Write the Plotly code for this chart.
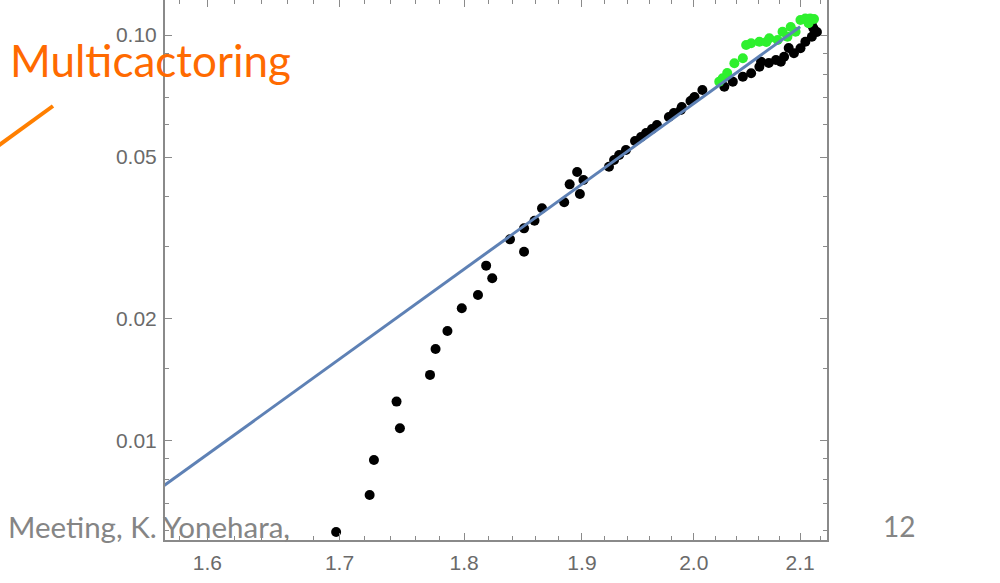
import plotly.graph_objects as go

# Measured points (log-log), black series
x_black = [1.6974, 1.7237, 1.7271, 1.7451, 1.7478, 1.7721, 1.7766, 1.7863, 1.7981, 1.8115,
           1.8183, 1.8234, 1.8383, 1.8502, 1.8502, 1.8591, 1.8655, 1.8846, 1.8893, 1.8958,
           1.9013, 1.8982, 1.9237, 1.9282, 1.9327, 1.9387, 1.9468, 1.9522, 1.9567, 1.9620,
           1.9665, 1.9773, 1.9818, 1.9890, 1.9970, 2.0007, 2.0079, 1.9881, 2.0000, 2.0282,
           2.0361, 2.0455, 2.0533, 2.0611, 2.0627, 2.0768, 2.0815, 2.0846, 2.0940, 2.1003,
           2.1050, 2.1113, 2.1128, 2.1113, 2.0700, 2.0890, 2.1162]
y_black = [0.00594, 0.00733, 0.00894, 0.01246, 0.01071, 0.01450, 0.01680, 0.01861, 0.02117, 0.02284,
           0.02697, 0.02510, 0.03132, 0.03334, 0.02920, 0.03481, 0.03736, 0.03865, 0.04281, 0.04592,
           0.04387, 0.04053, 0.04733, 0.04916, 0.05057, 0.05204, 0.05477, 0.05602, 0.05731, 0.05863,
           0.05997, 0.06277, 0.06421, 0.06644, 0.06874, 0.07031, 0.07316, 0.06531, 0.06979, 0.07456,
           0.07672, 0.07892, 0.08047, 0.08353, 0.08593, 0.08677, 0.08593, 0.08840, 0.09012, 0.09273,
           0.09627, 0.09904, 0.10388, 0.10585, 0.08530, 0.09288, 0.10172]

# Green series (upper end)
x_green = [2.0235, 2.0267, 2.0376, 2.0455, 2.0533, 2.0611, 2.0705, 2.0784, 2.0831, 2.0878,
           2.0956, 2.1003, 2.1050, 2.1097, 2.1081, 2.0486, 2.0677, 2.0909, 2.1134, 2.0309]
y_green = [0.07672, 0.07821, 0.08516, 0.08761, 0.09540, 0.09627, 0.09815, 0.09720, 0.10189, 0.09904,
           0.10189, 0.10890, 0.10976, 0.10976, 0.10687, 0.09448, 0.09609, 0.10464, 0.10952, 0.08060]

# Power-law fit line end points
fit_x = [1.56, 2.10]
fit_y = [0.00736, 0.1048]

# Axis ticks
x_major = [1.6, 1.7, 1.8, 1.9, 2.0, 2.1]
x_major_text = ["1.6", "1.7", "1.8", "1.9", "2.0", "2.1"]
x_minor = [1.58, 1.62, 1.64, 1.66, 1.68, 1.72, 1.74, 1.76, 1.78, 1.82, 1.84, 1.86, 1.88,
           1.92, 1.94, 1.96, 1.98, 2.02, 2.04, 2.06, 2.08, 2.12]
y_major = [0.01, 0.02, 0.05, 0.10]
y_major_text = ["0.01", "0.02", "0.05", "0.10"]
y_minor = [0.006, 0.007, 0.008, 0.009, 0.015, 0.03, 0.04, 0.06, 0.07, 0.08, 0.09]

W, H = 1000, 583
L, R, T, B = 165, 173, 0, 43
PW, PH = W - L - R, H - T - B
X_RANGE = [0.195694, 0.327567]
Y_RANGE = [-2.24599, -0.91364]

def px(x):
    return (x - L) / PW

def py(y):
    return (H - B - y) / PH

axis_grey = "#8a8a8a"
label_grey = "#6a6a6a"
tick_font = dict(family="Liberation Sans, Arial, sans-serif", size=21, color=label_grey)
minor_ticks = dict(tickmode="array", tickvals=x_minor, ticks="inside",
                   ticklen=4, tickwidth=1.2, tickcolor=axis_grey, showgrid=False)

fig = go.Figure()
fig.add_trace(go.Scatter(x=x_black, y=y_black, mode="markers",
                         marker=dict(color="black", size=10), showlegend=False))
fig.add_trace(go.Scatter(x=x_green, y=y_green, mode="markers",
                         marker=dict(color="#2ef02e", size=10), showlegend=False))
fig.add_trace(go.Scatter(x=fit_x, y=fit_y, mode="lines",
                         line=dict(color="#5e81b5", width=3), showlegend=False))
# carrier for the top tick row (drawn invisibly)
fig.add_trace(go.Scatter(x=fit_x, y=fit_y, mode="lines", xaxis="x2",
                         line=dict(width=0), opacity=0, hoverinfo="skip", showlegend=False))

fig.update_layout(
    width=W, height=H, autosize=False,
    margin=dict(l=L, r=R, t=T, b=B, pad=0),
    paper_bgcolor="white", plot_bgcolor="white",
    xaxis=dict(type="log", range=X_RANGE,
               tickmode="array", tickvals=x_major, ticktext=x_major_text,
               ticks="inside", ticklen=7, tickwidth=1.2, tickcolor=axis_grey,
               minor=minor_ticks,
               showline=True, linecolor=axis_grey, linewidth=2, mirror=False,
               showgrid=False, zeroline=False, tickfont=tick_font,
               ticklabelstandoff=3),
    xaxis2=dict(type="log", range=X_RANGE, overlaying="x", side="top",
                tickmode="array", tickvals=x_major, showticklabels=False,
                ticks="inside", ticklen=7, tickwidth=1.2, tickcolor=axis_grey,
                minor=minor_ticks,
                showline=False, showgrid=False, zeroline=False),
    yaxis=dict(type="log", range=Y_RANGE,
               tickmode="array", tickvals=y_major, ticktext=y_major_text,
               ticks="inside", ticklen=7, tickwidth=1.2, tickcolor=axis_grey,
               minor=dict(tickmode="array", tickvals=y_minor, ticks="inside",
                          ticklen=4, tickwidth=1.2, tickcolor=axis_grey, showgrid=False),
               showline=True, linecolor=axis_grey, linewidth=2, mirror="ticks",
               showgrid=False, zeroline=False, tickfont=tick_font,
               ticklabelstandoff=2),
)

# Slide overlay: orange label with pointer, footer and page number
fig.add_annotation(text="Multicactoring", xref="paper", yref="paper",
                   x=px(8), y=py(60), xanchor="left", yanchor="middle",
                   showarrow=False,
                   font=dict(family="Lato, Open Sans, sans-serif", size=44, color="#ff6a00"))
fig.add_shape(type="line", xref="paper", yref="paper",
              x0=px(-2), y0=py(146), x1=px(53), y1=py(106),
              line=dict(color="#ff7f00", width=4), layer="above")
fig.add_annotation(text="Meeting, K. Yonehara,", xref="paper", yref="paper",
                   x=px(6), y=py(526), xanchor="left", yanchor="middle",
                   showarrow=False,
                   font=dict(family="Lato, Open Sans, sans-serif", size=29.5, color="#858585"))
fig.add_annotation(text="12", xref="paper", yref="paper",
                   x=px(881), y=py(526), xanchor="left", yanchor="middle",
                   showarrow=False,
                   font=dict(family="Lato, Open Sans, sans-serif", size=28, color="#858585"))

fig.write_html("out.html")
